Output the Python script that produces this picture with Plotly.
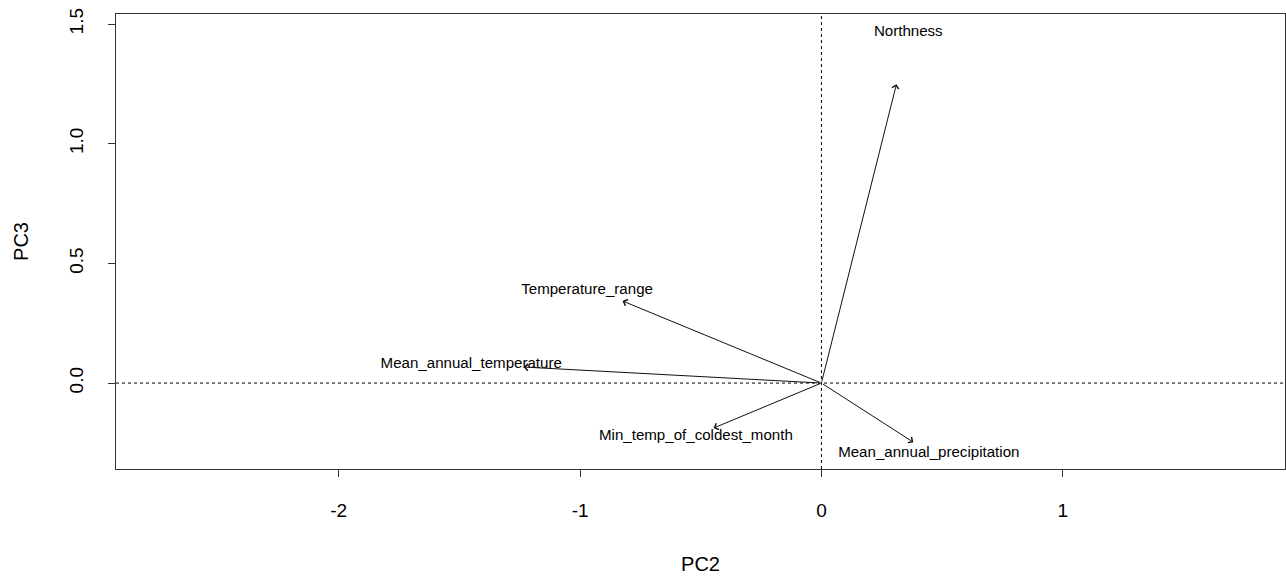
import plotly.graph_objects as go

variables = ["Northness", "Temperature_range", "Mean_annual_temperature",
             "Min_temp_of_coldest_month", "Mean_annual_precipitation"]
pc2 = [0.311, -0.824, -1.234, -0.447, 0.381]
pc3 = [1.249, 0.343, 0.067, -0.188, -0.247]
label_x = [0.360, -0.971, -1.451, -0.520, 0.445]
label_y = [1.466, 0.388, 0.079, -0.222, -0.293]

x_ticks = [-2, -1, 0, 1]
x_ticklabels = ["-2", "-1", "0", "1"]
y_ticks = [0.0, 0.5, 1.0, 1.5]
y_ticklabels = ["0.0", "0.5", "1.0", "1.5"]

FONT = "Arial, 'Liberation Sans', sans-serif"

fig = go.Figure()

fig.add_trace(go.Scatter(
    x=label_x, y=label_y, text=variables, mode="text",
    textfont=dict(family=FONT, size=15.1, color="black"),
    textposition="middle center", hoverinfo="text", showlegend=False,
))

for vx, vy in zip(pc2, pc3):
    fig.add_annotation(
        x=vx, y=vy, ax=0, ay=0, xref="x", yref="y", axref="x", ayref="y",
        text="", showarrow=True, arrowhead=4, arrowsize=1.3, arrowwidth=1,
        arrowcolor="#111111",
    )

fig.add_hline(y=0, line=dict(color="black", width=1, dash="dot"))
fig.add_vline(x=0, line=dict(color="black", width=1, dash="dot"))

fig.update_layout(
    width=1286, height=578, autosize=False,
    margin=dict(l=116, r=1, t=14, b=109),
    paper_bgcolor="white", plot_bgcolor="white",
    font=dict(family=FONT, color="black"),
    showlegend=False,
)
fig.update_xaxes(
    range=[-2.923, 1.921], tickvals=x_ticks, ticktext=x_ticklabels,
    showgrid=False, zeroline=False, showline=True, mirror=True,
    linecolor="#333333", linewidth=1, ticks="outside", ticklen=7,
    tickcolor="#333333", tickfont=dict(size=19), ticklabelstandoff=17,
    title=dict(text="PC2", font=dict(size=20), standoff=37),
)
fig.update_yaxes(
    range=[-0.359, 1.542], tickvals=y_ticks, ticktext=y_ticklabels,
    showgrid=False, zeroline=False, showline=True, mirror=True,
    linecolor="#333333", linewidth=1, ticks="outside", ticklen=7,
    tickcolor="#333333", tickfont=dict(size=19), tickangle=-90,
    ticklabelstandoff=17,
    title=dict(text="PC3", font=dict(size=20), standoff=32),
)

fig.write_html("out.html")
